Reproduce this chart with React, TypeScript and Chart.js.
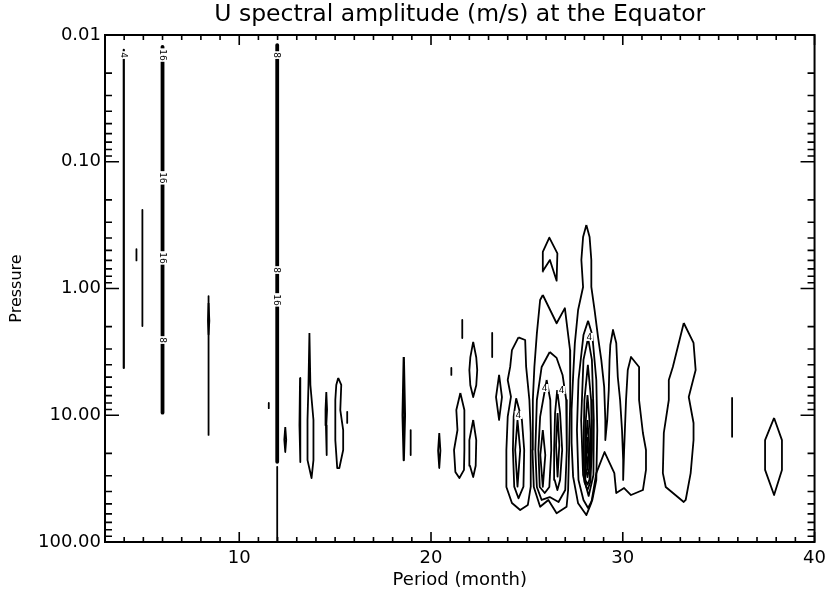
import React, { useEffect, useRef } from "react";
import { Chart, registerables } from "chart.js";

Chart.register(...registerables);

const TITLE = "U spectral amplitude (m/s) at the Equator";
const X_TITLE = "Period (month)";
const Y_TITLE = "Pressure";
const periodTicks = [10, 20, 30, 40];
const pressureTicks = [0.01, 0.1, 1, 10, 100];
const periodRange = [3, 40];
const pressureRange = [0.01, 100];

type Pt = [number, number]; // [period (month), pressure]

// ---- short-period contours ----
const p04: Pt[] = [[3.98, 0.0131], [3.98, 4.24]];
const p046: Pt[] = [[4.64, 0.49], [4.64, 0.6]];
const p05: Pt[] = [[4.95, 0.24], [4.95, 1.98]];
const p06: Pt[] = [[6.0, 0.0124], [6.0, 9.55]];
const p084: Pt[] = [[8.4, 1.15], [8.4, 14.3]];
const p084b: Pt[] = [[8.4, 1.3], [8.44, 1.8], [8.4, 2.3], [8.37, 1.8], [8.4, 1.3]];
const p115: Pt[] = [[11.54, 8.0], [11.54, 8.8]];
const p12a: Pt[] = [[11.98, 0.012], [11.98, 23.3]];
const p12b: Pt[] = [[11.98, 25.5], [11.98, 100]];
const p124: Pt[] = [[12.4, 12.4], [12.45, 15.6], [12.4, 19.5], [12.35, 15.6], [12.4, 12.4]];
const p132: Pt[] = [[13.17, 5.08], [13.2, 12], [13.17, 23.4], [13.14, 12], [13.17, 5.08]];
const p137: Pt[] = [[13.66, 2.24], [13.71, 5.77], [13.87, 10.9], [13.87, 22.6], [13.77, 31.3], [13.56, 22.6], [13.56, 10.9], [13.61, 5.77], [13.66, 2.24]];
const p145: Pt[] = [[14.54, 6.56], [14.58, 9], [14.54, 12], [14.56, 20.6], [14.52, 12], [14.5, 9], [14.54, 6.56]];
const p151: Pt[] = [[15.16, 5.08], [15.32, 5.77], [15.27, 9.1], [15.42, 13.1], [15.42, 18.8], [15.22, 26.1], [15.11, 26.1], [15.01, 15.7], [15.01, 7.58], [15.06, 5.77], [15.16, 5.08]];
const p156: Pt[] = [[15.63, 9.4], [15.63, 11.5]];
const p186: Pt[] = [[18.58, 3.47], [18.64, 10], [18.58, 22.6], [18.52, 10], [18.58, 3.47]];
const p189: Pt[] = [[18.94, 13.1], [18.94, 20.6]];
const p204: Pt[] = [[20.43, 13.8], [20.49, 19], [20.43, 26.1], [20.37, 19], [20.43, 13.8]];
const p211: Pt[] = [[21.06, 4.24], [21.06, 4.81]];
const p215a: Pt[] = [[21.63, 1.77], [21.63, 2.46]];
const p215b: Pt[] = [[21.53, 6.67], [21.74, 9.1], [21.74, 18.8], [21.72, 27], [21.48, 31.3], [21.27, 28], [21.2, 18.8], [21.38, 13.07], [21.32, 9.1], [21.53, 6.67]];
const p222a: Pt[] = [[22.2, 2.64], [22.36, 3.5], [22.41, 4.4], [22.36, 5.8], [22.2, 7.18], [22.05, 5.8], [22.0, 4.4], [22.05, 3.5], [22.2, 2.64]];
const p222b: Pt[] = [[22.2, 10.9], [22.36, 15.7], [22.33, 25], [22.2, 30.7], [22.03, 25], [22.0, 15.7], [22.2, 10.9]];
const p232: Pt[] = [[23.19, 2.24], [23.19, 3.47]];
const p235: Pt[] = [[23.55, 4.81], [23.7, 7.2], [23.55, 10.9], [23.39, 7.2], [23.55, 4.81]];

// ---- 24-28 month cluster ----
const a1: Pt[] = [[24.56, 2.43], [24.91, 2.55], [24.96, 4.14], [25.13, 7.58], [25.2, 13.8], [25.2, 36.6], [25.05, 51], [24.65, 55.9], [24.22, 49.2], [23.93, 36.8], [23.93, 18.8], [24.0, 10.27], [24.17, 7.14], [24.0, 5.27], [24.13, 4.14], [24.22, 3.06], [24.56, 2.43]];
const a2: Pt[] = [[24.44, 7.35], [24.74, 10.9], [24.86, 18.8], [24.82, 36.6], [24.56, 45.2], [24.34, 36.6], [24.27, 18.8], [24.31, 10.27], [24.44, 7.35]];
const a3: Pt[] = [[24.51, 10.9], [24.65, 18.8], [24.51, 36.6], [24.39, 18.8], [24.51, 10.9]];
const b1: Pt[] = [[25.83, 1.125], [26.55, 1.88], [26.98, 1.43], [27.25, 3.06], [27.26, 7.58], [27.2, 18.8], [27.15, 38.9], [27.07, 52.7], [26.55, 59.4], [26.12, 46.6], [25.69, 52.7], [25.36, 36.8], [25.29, 18.8], [25.31, 7.58], [25.39, 4.16], [25.52, 2.26], [25.69, 1.232], [25.83, 1.125]];
const b2: Pt[] = [[26.19, 3.17], [26.55, 3.53], [26.86, 4.81], [27.05, 7.58], [27.08, 18.8], [27.0, 38.9], [26.65, 48.3], [26.19, 44.2], [25.77, 46.6], [25.52, 36.8], [25.44, 18.8], [25.52, 7.58], [25.77, 4.16], [26.19, 3.17]];
const b3a: Pt[] = [[26.03, 5.27], [26.22, 7.58], [26.27, 18.8], [26.17, 36.8], [25.93, 41.1], [25.67, 36.8], [25.6, 18.8], [25.69, 10.3], [26.03, 5.27]];
const b4a: Pt[] = [[25.83, 13.07], [25.96, 20.6], [25.83, 36.8], [25.7, 20.6], [25.83, 13.07]];
const b3b: Pt[] = [[26.58, 6.32], [26.73, 9.6], [26.84, 18.8], [26.73, 32.4], [26.59, 38.9], [26.45, 32.4], [26.42, 18.8], [26.47, 9.6], [26.58, 6.32]];
const b4b: Pt[] = [[26.6, 9.6], [26.69, 17.2], [26.6, 30.5], [26.52, 17.2], [26.6, 9.6]];
const v1: Pt[] = [[25.81, 0.737], [25.83, 0.513], [26.17, 0.397], [26.59, 0.528], [26.55, 0.868], [26.2, 0.596], [25.81, 0.737]];
const cde1: Pt[] = [[28.1, 0.316], [28.27, 0.393], [28.36, 0.596], [28.36, 0.973], [28.53, 1.478], [28.71, 2.414], [28.88, 3.66], [29.03, 5.98], [29.09, 10.89], [29.09, 15.68], [29.19, 10.89], [29.27, 6.32], [29.31, 3.66], [29.35, 2.79], [29.49, 2.125], [29.66, 2.69], [29.74, 4.99], [29.86, 7.58], [29.96, 13.07], [30.02, 22.55], [30.02, 32.4], [30.07, 18.8], [30.17, 7.58], [30.26, 4.4], [30.43, 3.47], [30.85, 4.16], [30.85, 7.58], [31.05, 13.8], [31.21, 18.8], [31.21, 27.0], [31.05, 38.9], [30.43, 42.6], [30.07, 37.5], [29.66, 41.1], [29.56, 28.6], [29.05, 19.5], [28.62, 28.6], [28.36, 49.2], [28.1, 61.3], [27.67, 49.5], [27.41, 30.5], [27.33, 16.5], [27.33, 9.1], [27.41, 4.96], [27.5, 2.71], [27.67, 1.478], [27.93, 0.973], [27.84, 0.596], [27.93, 0.393], [28.1, 0.316]];
const c2: Pt[] = [[28.19, 1.8], [28.41, 2.33], [28.62, 5.27], [28.67, 13.07], [28.62, 32.4], [28.41, 46.6], [28.19, 53.9], [27.95, 46.6], [27.69, 32.4], [27.61, 13.07], [27.69, 5.27], [27.95, 2.33], [28.19, 1.8]];
const c3: Pt[] = [[28.19, 2.46], [28.39, 3.66], [28.49, 10.89], [28.47, 29.6], [28.22, 43.3], [27.93, 29.6], [27.83, 10.89], [27.95, 3.66], [28.19, 2.46]];
const c4: Pt[] = [[28.18, 4.01], [28.35, 7.58], [28.39, 18.8], [28.31, 33.6], [28.16, 38.9], [28.0, 33.6], [27.95, 18.8], [28.0, 7.58], [28.18, 4.01]];
const c5: Pt[] = [[28.16, 6.92], [28.3, 13.07], [28.33, 22.55], [28.26, 32.4], [28.16, 35.3], [28.05, 32.4], [28.03, 22.55], [28.04, 13.07], [28.16, 6.92]];
const c6: Pt[] = [[28.16, 10.89], [28.25, 17.2], [28.25, 26.1], [28.16, 30.7], [28.07, 26.1], [28.07, 17.2], [28.16, 10.89]];
const c7: Pt[] = [[28.16, 14.85], [28.21, 20.6], [28.16, 27.0], [28.1, 20.6], [28.16, 14.85]];

// ---- long-period contours ----
const f33: Pt[] = [[33.18, 1.871], [33.69, 2.69], [33.8, 4.4], [33.44, 7.18], [33.69, 11.51], [33.69, 15.68], [33.54, 28.6], [33.28, 46.6], [33.18, 48.3], [32.24, 36.8], [32.09, 28.6], [32.14, 13.8], [32.4, 7.58], [32.4, 5.27], [32.61, 4.16], [33.18, 1.871]];
const f357: Pt[] = [[35.7, 7.3], [35.7, 14.8]];
const f379: Pt[] = [[37.89, 10.5], [38.3, 15.7], [38.3, 27], [37.89, 42.6], [37.42, 27], [37.42, 15.7], [37.89, 10.5]];

// ---- contour level labels: period, pressure, text ----
const labelPeriods = [3.98, 6.0, 6.0, 6.0, 6.0, 11.98, 11.98, 11.98, 24.56, 25.93, 26.81, 28.26];
const labelPressures = [0.0144, 0.0144, 0.134, 0.574, 2.55, 0.0144, 0.715, 1.23, 9.95, 6.1, 6.32, 2.41];
const labelTexts = ["4", "16", "16", "16", "8", "8", "8", "16", "4", "4", "4", "4"];
const labelVertical = [true, true, true, true, true, true, true, true, false, false, false, false];

const contours: Pt[][] = [
  p04, p046, p05, p06, p084, p084b, p115, p12a, p12b, p124, p132, p137, p145, p151, p156,
  p186, p189, p204, p211, p215a, p215b, p222a, p222b, p232, p235,
  a1, a2, a3, b1, b2, b3a, b4a, b3b, b4b, v1, cde1, c2, c3, c4, c5, c6, c7,
  f33, f357, f379,
];
const heavyContours: Pt[][] = [p06, p12a];
const mediumContours: Pt[][] = [p186, p04];

const FONT = "'DejaVu Sans', 'Liberation Sans', sans-serif";

const framePlugin = {
  id: "idlFrame",
  afterLayout(chart: any) {
    const tb = chart.titleBlock;
    if (tb) {
      tb.left = chart.chartArea.left;
      tb.right = chart.chartArea.right;
    }
  },
  afterDatasetsDraw(chart: any) {
    const { ctx, chartArea: a, scales } = chart;
    const x = scales.x;
    const y = scales.y;
    ctx.save();
    // contour labels
    ctx.font = `9px ${FONT}`;
    ctx.textAlign = "center";
    ctx.textBaseline = "middle";
    for (let i = 0; i < labelTexts.length; i++) {
      const px = x.getPixelForValue(labelPeriods[i]);
      const py = y.getPixelForValue(labelPressures[i]);
      ctx.save();
      ctx.translate(px, py);
      if (labelVertical[i]) ctx.rotate(Math.PI / 2);
      const w = ctx.measureText(labelTexts[i]).width + 2;
      ctx.fillStyle = "#fff";
      ctx.fillRect(-w / 2, -4, w, 8);
      ctx.fillStyle = "#000";
      ctx.fillText(labelTexts[i], 0, 0.5);
      ctx.restore();
    }
    // frame + ticks
    ctx.strokeStyle = "#000";
    ctx.lineWidth = 2;
    ctx.strokeRect(a.left, a.top, a.right - a.left, a.bottom - a.top);
    ctx.lineWidth = 1.6;
    ctx.beginPath();
    for (let v = periodRange[0]; v <= periodRange[1]; v++) {
      const px = x.getPixelForValue(v);
      const len = v % 10 === 0 ? 10 : 5;
      ctx.moveTo(px, a.bottom);
      ctx.lineTo(px, a.bottom - len);
      ctx.moveTo(px, a.top);
      ctx.lineTo(px, a.top + len);
    }
    for (let e = -2; e <= 2; e++) {
      for (let m = 1; m <= 9; m++) {
        const v = m * Math.pow(10, e);
        if (v > pressureRange[1] * 1.0001) break;
        const py = y.getPixelForValue(v);
        const len = m === 1 ? 14 : 7;
        ctx.moveTo(a.left, py);
        ctx.lineTo(a.left + len, py);
        ctx.moveTo(a.right, py);
        ctx.lineTo(a.right - len, py);
      }
    }
    ctx.stroke();
    ctx.restore();
  },
};

export default function App() {
  const ref = useRef<HTMLCanvasElement | null>(null);
  useEffect(() => {
    if (!ref.current) return;
    const datasets = contours.map((pts) => ({
      data: pts.map(([px, py]) => ({ x: px, y: py })),
      showLine: true,
      fill: false,
      borderColor: "#000",
      borderWidth: heavyContours.includes(pts) ? 3.8 : mediumContours.includes(pts) ? 2.2 : 1.8,
      borderJoinStyle: "round" as const,
      pointRadius: 0,
      tension: 0,
    }));
    const chart = new Chart(ref.current, {
      type: "scatter",
      data: { datasets },
      plugins: [framePlugin],
      options: {
        responsive: false,
        animation: false,
        layout: { padding: { left: 0, right: 12, top: 0, bottom: 0 } },
        plugins: {
          legend: { display: false },
          tooltip: { enabled: false },
          title: {
            display: true,
            text: TITLE,
            color: "#000",
            font: { family: FONT, size: 23.5, weight: "normal" },
            padding: { top: 1, bottom: 5.8 },
          },
        },
        scales: {
          x: {
            type: "linear",
            min: periodRange[0],
            max: periodRange[1],
            afterBuildTicks: (s: any) => {
              s.ticks = periodTicks.map((v) => ({ value: v }));
            },
            afterFit: (s: any) => {
              s.height = 54;
            },
            grid: { display: false, drawTicks: false },
            border: { display: false },
            ticks: {
              color: "#000",
              font: { family: FONT, size: 18 },
              padding: 6,
              maxRotation: 0,
              autoSkip: false,
              callback: (v: any) => String(v),
            },
            title: {
              display: true,
              text: X_TITLE,
              color: "#000",
              font: { family: FONT, size: 18 },
              padding: { top: 0, bottom: 5 },
            },
          },
          y: {
            type: "logarithmic",
            reverse: true,
            min: pressureRange[0],
            max: pressureRange[1],
            afterBuildTicks: (s: any) => {
              s.ticks = pressureTicks.map((v) => ({ value: v }));
            },
            afterFit: (s: any) => {
              s.width = 105;
            },
            grid: { display: false, drawTicks: false },
            border: { display: false },
            ticks: {
              color: "#000",
              font: { family: FONT, size: 18 },
              padding: 4,
              autoSkip: false,
              callback: (v: any) => Number(v).toFixed(2),
            },
            title: {
              display: true,
              text: Y_TITLE,
              color: "#000",
              font: { family: FONT, size: 16 },
              padding: { top: 7, bottom: 0 },
            },
          },
        },
      },
    } as any);
    return () => chart.destroy();
  }, []);
  return (
    <div style={{ position: "fixed", left: 0, top: 0, width: 832, height: 596, background: "#fff" }}>
      <canvas ref={ref} width={832} height={596} style={{ display: "block" }} />
    </div>
  );
}
